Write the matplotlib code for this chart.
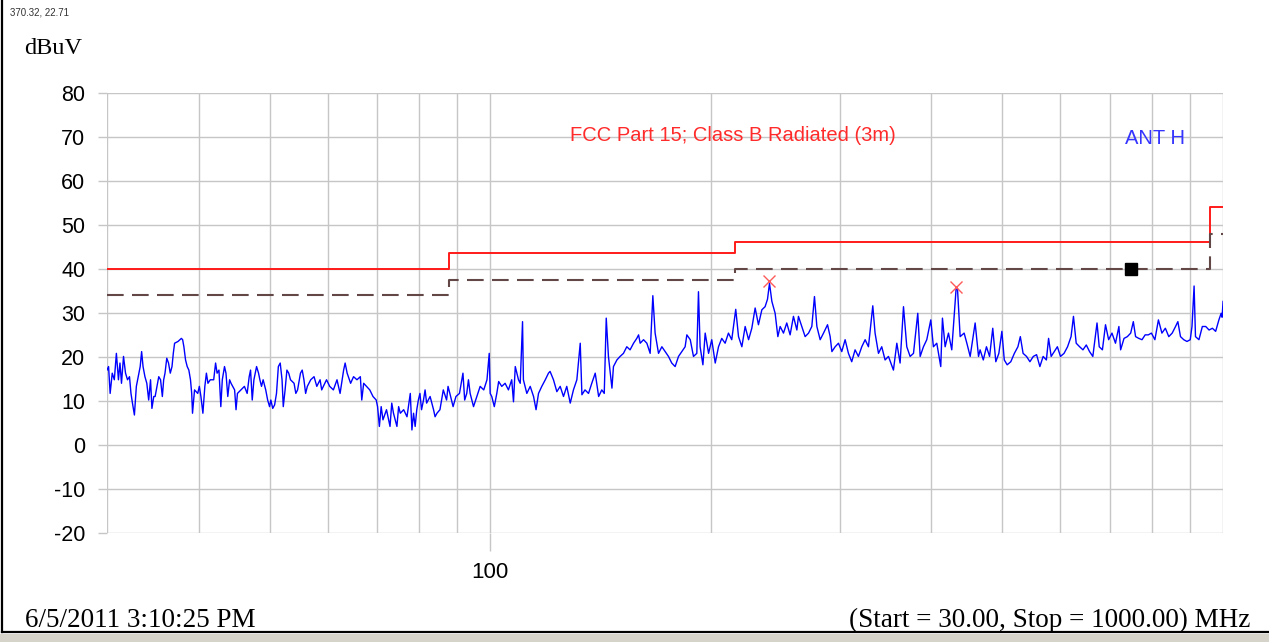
import matplotlib
matplotlib.use("Agg")
import matplotlib.pyplot as plt
from matplotlib.lines import Line2D
from matplotlib.patches import Rectangle
from matplotlib.ticker import NullFormatter, FixedLocator

# measured trace (ANT H), frequency in MHz and level in dBuV
freq_mhz = [
    30.0, 30.15, 30.3, 30.5, 30.7, 30.9, 31.1, 31.25, 31.4, 31.6, 31.8, 32.0, 32.2, 32.35,
    32.5, 32.7, 32.9, 33.1, 33.3, 33.45, 33.6, 33.8, 34.0, 34.2, 34.4, 34.55, 34.75, 34.9,
    35.1, 35.3, 35.5, 35.7, 35.85, 36.0, 36.2, 36.4, 36.6, 36.8, 36.95, 37.1, 37.5, 37.9,
    38.05, 38.2, 38.4, 38.6, 38.8, 39.0, 39.15, 39.25, 39.5, 39.9, 40.1, 40.3, 40.55, 40.8,
    41.0, 41.2, 41.5, 41.95, 42.2, 42.4, 42.65, 42.9, 43.1, 43.4, 43.6, 43.85, 44.1, 44.3,
    44.8, 45.0, 45.2, 45.7, 46.2, 46.6, 46.9, 47.1, 47.35, 47.6, 48.0, 48.3, 48.5, 48.75,
    49.0, 49.4, 49.7, 50.0, 50.2, 50.5, 50.8, 51.1, 51.4, 51.7, 52.0, 52.2, 52.5, 52.8,
    53.1, 53.4, 54.0, 54.3, 54.6, 54.9, 55.1, 55.4, 55.7, 56.0, 56.3, 56.9, 57.5, 58.0,
    58.6, 58.9, 59.2, 59.8, 60.4, 61.1, 61.8, 62.4, 63.1, 63.4, 63.8, 64.5, 65.1, 65.8,
    66.5, 66.8, 67.2, 67.8, 68.5, 69.2, 69.9, 70.2, 70.6, 71.0, 71.4, 72.2, 73.0, 73.4,
    73.8, 74.6, 75.0, 75.4, 76.2, 77.0, 77.8, 78.2, 78.6, 79.0, 79.4, 79.8, 80.2, 80.6,
    81.1, 81.5, 81.9, 82.8, 83.7, 84.1, 84.6, 85.4, 86.3, 87.2, 87.6, 88.1, 89.0, 89.8,
    90.8, 91.8, 92.3, 92.9, 93.4, 93.9, 94.9, 95.9, 96.9, 98.0, 99.0, 99.7, 100.0,
    100.5, 101.3, 102.1, 102.7, 103.7, 104.8, 105.9, 107.0, 107.6, 108.2, 109.3, 109.9,
    110.7, 111.0, 112.2, 113.4, 114.6, 115.5, 116.4, 117.6, 118.9, 120.1, 120.7, 122.0,
    123.3, 124.6, 125.9, 127.2, 128.6, 129.9, 131.3, 132.7, 133.4, 134.7, 136.2, 137.6,
    139.1, 140.6, 142.0, 143.1, 144.0, 145.0, 146.6, 147.3, 148.9, 150.4, 152.0, 153.6,
    155.2, 156.9, 158.5, 159.4, 160.2, 161.9, 163.6, 165.3, 166.7, 167.9, 169.7, 171.5,
    173.3, 175.1, 176.9, 178.8, 180.7, 182.6, 184.5, 185.5, 187.5, 189.4, 191.4, 192.4,
    193.4, 195.1, 196.5, 198.6, 200.6, 202.8, 204.9, 207.0, 209.2, 211.4, 213.6, 216.3,
    218.2, 220.5, 222.8, 225.2, 227.5, 229.9, 232.3, 234.8, 237.2, 239.0, 240.5, 242.3,
    244.8, 246.9, 248.7, 251.3, 253.9, 256.6, 259.3, 262.1, 263.4, 266.2, 269.0, 271.9,
    274.7, 277.0, 279.1, 282.0, 285.0, 288.6, 291.0, 292.6, 295.6, 298.7, 301.8, 305.0,
    308.2, 311.4, 314.7, 318.0, 321.4, 324.8, 328.2, 332.7, 335.1, 338.7, 342.2, 345.8,
    349.5, 355.0, 358.8, 362.5, 366.4, 370.2, 374.1, 378.1, 383.2, 386.1, 390.1, 394.2,
    399.2, 402.5, 406.8, 411.9, 414.1, 417.6, 422.0, 426.4, 432.3, 434.1, 437.8, 443.3,
    447.1, 451.8, 458.9, 463.8, 466.1, 470.8, 475.5, 480.2, 485.0, 489.7, 494.4, 499.1,
    502.9, 507.5, 513.3, 519.1, 524.9, 528.9, 533.5, 539.3, 545.1, 550.9, 556.6, 562.4,
    568.2, 574.0, 578.0, 582.7, 588.4, 594.2, 600.0, 606.8, 613.5, 620.3, 625.0, 630.4,
    637.2, 643.9, 650.7, 657.4, 664.2, 673.0, 677.7, 684.5, 691.2, 698.0, 705.4, 713.2,
    720.9, 724.8, 732.6, 740.3, 748.1, 754.3, 759.7, 767.4, 775.2, 782.9, 790.7, 798.4,
    807.2, 816.2, 825.2, 834.2, 843.2, 852.3, 861.3, 867.6, 874.8, 883.8, 892.8, 902.0,
    907.0, 913.0, 917.0, 927.0, 937.0, 947.0, 957.0, 967.0, 977.0, 987.0, 994.0, 997.0,
    1000.0,
]
level_dbuv = [
    17.0, 17.8, 11.7, 16.3, 14.8, 20.8, 14.8, 18.6, 14.0, 20.1, 16.3, 14.8, 15.5, 11.7,
    9.5, 6.8, 13.3, 15.5, 17.8, 21.2, 17.8, 15.5, 14.0, 10.2, 14.8, 8.3, 11.0, 11.0,
    13.3, 15.5, 14.8, 11.0, 14.8, 16.3, 19.7, 18.6, 16.3, 17.8, 20.8, 23.1, 23.5, 24.2,
    23.9, 22.3, 19.3, 17.8, 17.0, 14.8, 11.7, 7.2, 12.5, 11.7, 13.3, 11.0, 7.2, 13.3,
    16.3, 14.0, 14.8, 14.8, 18.6, 16.3, 17.0, 8.7, 14.8, 17.8, 16.3, 11.0, 14.8, 14.0,
    12.5, 8.0, 11.7, 12.5, 13.3, 11.7, 15.5, 17.0, 10.2, 14.8, 17.8, 16.3, 14.8, 13.3,
    14.8, 12.5, 10.2, 8.7, 10.2, 8.3, 9.1, 11.7, 17.8, 18.6, 14.8, 8.7, 12.5, 17.0,
    16.3, 14.8, 14.0, 11.7, 12.5, 14.8, 16.3, 17.0, 14.8, 11.7, 13.3, 14.8, 15.5, 13.3,
    14.8, 12.5, 13.3, 14.8, 13.3, 12.5, 14.8, 11.7, 17.0, 18.6, 16.3, 14.0, 15.5, 14.8,
    15.5, 10.2, 14.0, 13.3, 12.5, 11.0, 10.2, 8.7, 4.2, 8.7, 5.7, 8.0, 4.2, 9.5,
    7.2, 4.2, 8.7, 7.2, 8.0, 6.4, 11.7, 3.4, 7.2, 4.2, 8.0, 10.2, 11.7, 8.0,
    10.2, 12.5, 9.5, 11.0, 8.0, 6.4, 7.2, 8.0, 12.5, 10.2, 13.3, 11.7, 8.7, 11.0,
    11.7, 16.3, 10.2, 11.7, 14.8, 11.7, 8.7, 11.0, 13.3, 12.5, 14.8, 20.8, 11.7,
    11.0, 8.7, 11.7, 14.4, 13.3, 14.0, 12.5, 14.8, 9.8, 17.8, 14.8, 14.0,
    28.0, 14.8, 11.7, 13.3, 11.0, 8.0, 11.7, 13.3, 14.8, 16.3, 16.7, 14.8,
    12.1, 13.3, 11.0, 13.3, 9.5, 12.5, 14.8, 23.1, 11.4, 12.5, 11.7, 14.0,
    16.3, 11.0, 12.5, 11.7, 28.8, 20.1, 12.9, 17.8, 19.3, 20.1, 20.8, 22.3,
    21.6, 23.1, 24.2, 25.0, 23.1, 23.9, 23.1, 20.8, 33.9, 25.4, 20.8, 22.3,
    21.2, 20.1, 18.6, 17.8, 20.1, 21.2, 22.3, 25.0, 23.9, 20.1, 20.8, 34.8,
    22.3, 18.2, 25.4, 20.8, 23.9, 18.6, 22.3, 24.2, 23.1, 25.4, 23.9, 30.8,
    24.6, 22.3, 26.9, 23.9, 26.5, 31.1, 27.3, 30.7, 31.4, 33.1, 36.7, 32.6,
    29.9, 24.6, 26.9, 25.4, 27.7, 25.0, 29.2, 26.1, 29.2, 26.9, 24.6, 25.4,
    26.9, 33.7, 26.9, 23.9, 25.4, 27.3, 24.6, 21.2, 22.3, 23.1, 21.2, 23.9,
    20.8, 18.9, 21.6, 20.1, 22.3, 23.9, 22.3, 31.6, 25.4, 20.8, 22.3, 19.3,
    20.1, 17.0, 23.1, 18.6, 31.4, 22.3, 20.1, 20.8, 29.9, 20.1, 22.3, 23.9,
    28.4, 22.3, 23.1, 17.8, 28.8, 22.3, 25.4, 21.6, 35.6, 35.6, 24.6, 25.4,
    23.1, 20.1, 27.7, 20.1, 21.6, 19.3, 22.3, 20.1, 26.5, 18.9, 20.8, 25.8,
    19.3, 18.2, 18.9, 20.8, 22.3, 24.6, 20.8, 20.1, 18.9, 20.1, 20.5, 17.8,
    20.1, 19.3, 24.2, 20.1, 21.2, 22.3, 20.1, 20.8, 22.3, 24.6, 29.2, 23.1,
    22.3, 21.6, 22.7, 21.2, 20.1, 27.7, 22.3, 21.6, 27.3, 23.9, 25.4, 23.1,
    26.9, 21.6, 24.2, 24.6, 25.4, 28.0, 24.6, 24.2, 23.9, 25.0, 25.0, 25.4,
    23.9, 28.4, 25.4, 26.5, 24.6, 25.4, 26.9, 28.0, 24.6, 23.9, 23.5, 23.9,
    26.9, 36.1, 24.6, 23.9, 26.9, 26.9, 26.1, 26.5, 25.8, 28.4, 29.9, 29.0,
    32.6,
]

# FCC Part 15 class B (3 m) limit and the -6 dB margin line
limit_freq = [30, 88, 88, 216, 216, 960, 960, 1000]
limit_dbuv = [40, 40, 43.5, 43.5, 46, 46, 54, 54]
margin_dbuv = [34, 34, 37.5, 37.5, 40, 40, 48, 48]

# peak markers and the marker square
peak_freq = [240.5, 432.3]
peak_dbuv = [37.3, 35.8]
marker_freq = [749]
marker_dbuv = [40]

y_ticks = [-20, -10, 0, 10, 20, 30, 40, 50, 60, 70, 80]
grid_freqs = [30, 40, 50, 60, 70, 80, 90, 200, 300, 400, 500, 600, 700, 800, 900, 1000]

sans = ["Liberation Sans", "DejaVu Sans"]
serif = ["Liberation Serif", "DejaVu Serif"]
grid_col = "#c6c6c6"

fig = plt.figure(figsize=(12.69, 6.42), dpi=100)
ax = fig.add_axes([0.0843, 0.1698, 0.8795, 0.6858])

ax.plot(limit_freq, limit_dbuv, color="#ff1a1a", lw=1.4, zorder=3)
ax.plot(limit_freq, margin_dbuv, color="#634646", lw=1.5, ls=(0, (8, 4)), zorder=3)
ax.plot(freq_mhz, level_dbuv, color="#0000ff", lw=1.0, zorder=4)
ax.plot(peak_freq, peak_dbuv, ls="none", marker="x", ms=9, mew=1.0, color="#ff5a5a", zorder=5)
ax.plot(marker_freq, marker_dbuv, ls="none", marker="s", ms=8, color="black", zorder=5)

ax.set_xscale("log")
ax.set_xlim(30, 1000)
ax.set_ylim(-20, 80)
ax.xaxis.set_major_locator(FixedLocator([100]))
ax.xaxis.set_minor_locator(FixedLocator(grid_freqs))
ax.xaxis.set_minor_formatter(NullFormatter())
ax.set_xticklabels(["100"])
ax.set_yticks(y_ticks)
ax.set_yticklabels([str(v) for v in y_ticks])

ax.grid(True, which="both", color=grid_col, lw=1.0)
ax.set_axisbelow(True)
for s in ax.spines.values():
    s.set_visible(False)
ax.tick_params(axis="x", which="major", length=13, width=1.0, color=grid_col, pad=8,
               labelsize=16)
ax.tick_params(axis="x", which="minor", length=0)
ax.tick_params(axis="y", length=6.5, width=1.0, color=grid_col, pad=9, labelsize=15.5)
for lab in ax.get_xticklabels() + ax.get_yticklabels():
    lab.set_family(sans)

fig.text(0.5776, 0.7897, "FCC Part 15; Class B Radiated (3m)", color="#ff2a2a",
         fontsize=14.5, family=sans, ha="center", va="center")
fig.text(0.8865, 0.7835, "ANT H", color="#3535ff", fontsize=14.5, family=sans,
         ha="left", va="center")
fig.text(0.019, 0.925, "dBuV", fontsize=17.5, family=serif, ha="left", va="center")
fig.text(0.008, 0.981, "370.32, 22.71", fontsize=7, family=sans, color="#333333",
         ha="left", va="center")
fig.text(0.020, 0.034, "6/5/2011 3:10:25 PM", fontsize=19.5, family=serif,
         ha="left", va="center")
fig.text(0.985, 0.034, "(Start = 30.00, Stop = 1000.00) MHz", fontsize=19.5, family=serif,
         ha="right", va="center")

# window frame and status bar strip of the original screenshot
fig.add_artist(Rectangle((0, 0), 1, 0.0125, transform=fig.transFigure,
                         color="#d6d3cb", lw=0))
fig.add_artist(Line2D([0.0018, 0.0018], [0.0155, 1], transform=fig.transFigure,
                      color="black", lw=1.6))
fig.add_artist(Line2D([0.0018, 1], [0.0155, 0.0155], transform=fig.transFigure,
                      color="black", lw=1.6))

fig.savefig("out.png", dpi=100)
